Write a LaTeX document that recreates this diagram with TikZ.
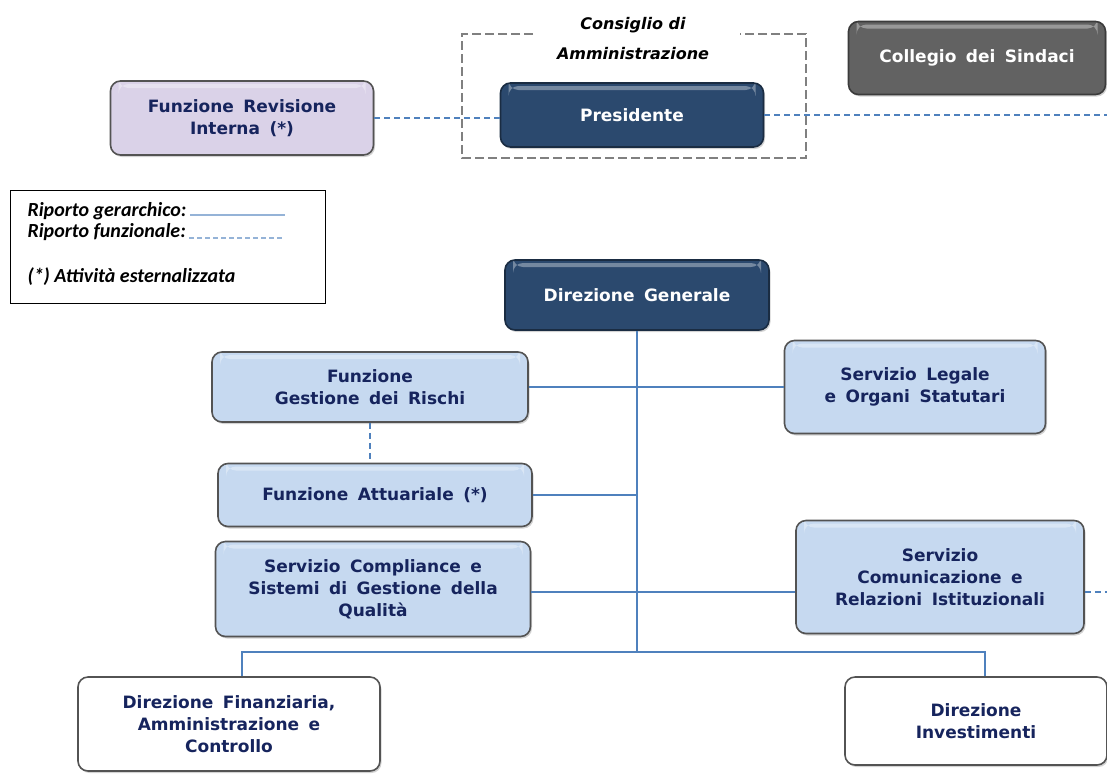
\documentclass[tikz,border=0pt]{standalone}
\usepackage{fontspec}
\setmainfont{DejaVu Sans}
\newfontfamily\boxfont[WordSpace=1.6]{DejaVu Sans}
\newfontfamily\legendfont{Carlito}
\usetikzlibrary{positioning}
\usetikzlibrary{shadows}

\definecolor{navytext}{RGB}{22,36,93}
\definecolor{linkblue}{RGB}{79,129,189}
\definecolor{paleblue}{RGB}{149,179,215}
\definecolor{lightblue}{RGB}{198,217,240}
\definecolor{lavender}{RGB}{218,210,232}
\definecolor{darknavy}{RGB}{43,73,110}
\definecolor{darkgrey}{RGB}{98,98,98}
\definecolor{framegrey}{RGB}{128,128,128}

\begin{document}
\begin{tikzpicture}[x=1pt, y=-1pt,
    unit/.style={rectangle, rounded corners=10pt, draw=gray!65!black,
      line width=1.6pt, align=center, inner sep=2pt,
      font=\boxfont\bfseries\fontsize{17}{22}\selectfont,
      drop shadow={shadow xshift=1.5pt, shadow yshift=-2pt, opacity=.35},
      path picture={\fill [white, opacity=.35]
        ([xshift=8pt, yshift=-3pt]path picture bounding box.north west) rectangle
        ([xshift=-8pt, yshift=-7pt]path picture bounding box.north east);}},
    lavbox/.style={unit, fill=lavender, text=navytext},
    bluebox/.style={unit, fill=lightblue, text=navytext},
    navybox/.style={unit, fill=darknavy, draw=darknavy!60!black, text=white},
    greybox/.style={unit, fill=darkgrey, draw=darkgrey!60!black, text=white},
    whitebox/.style={unit, fill=white, text=navytext},
    orgline/.style={draw=linkblue, line width=1.3pt},
    funzline/.style={orgline, dash pattern=on 6pt off 4pt},
    legtext/.style={anchor=west, font=\legendfont\bfseries\itshape\fontsize{20}{22}\selectfont}]

    \useasboundingbox (0,0) rectangle (1107,774);

    % consiglio di amministrazione
    \draw [framegrey, line width=2.8pt, dash pattern=on 9pt off 4pt]
      (533,34) -| (462,158) -| (806,34) -- (740,34);
    \node [align=center, font=\bfseries\itshape\fontsize{16}{30}\selectfont] (cda)
      at (633,39) {Consiglio di\\Amministrazione};

    % top row
    \node [navybox, minimum width=263, minimum height=64] (presidente) at (632,115) {Presidente};
    \node [lavbox, minimum width=263, minimum height=74] (revisione) at (242,118)
      {Funzione Revisione\\Interna (*)};
    \node [greybox, minimum width=257, minimum height=73] (collegio) at (977,58)
      {Collegio dei Sindaci};
    \coordinate (bordo) at (1107,0);

    \draw [funzline] (revisione.east) -- (revisione.east -| presidente.west);
    \draw [funzline] (presidente.east) -- (presidente.east -| bordo);

    % legenda
    \node [draw, line width=1.2pt, minimum width=315, minimum height=113,
      anchor=north west] (legenda) at (10,190) {};
    \node [legtext] (gerarchico) at (24,211) {Riporto gerarchico:};
    \node [legtext] (funzionale) at (24,232) {Riporto funzionale:};
    \node [legtext] (esterna) at (24,277) {(*) Attività esternalizzata};
    \coordinate (legfine) at (285,0);
    \draw [draw=paleblue, line width=1.2pt] ([yshift=-4pt]gerarchico.east) -- ([yshift=-4pt]gerarchico.east -| legfine);
    \draw [draw=paleblue, line width=1.2pt, dash pattern=on 5pt off 3pt]
      ([yshift=-6pt]funzionale.east) -- ([yshift=-6pt]funzionale.east -| legfine);

    % direzione generale e staff
    \node [navybox, minimum width=264, minimum height=70] (dirgen) at (637,295) {Direzione Generale};
    \node [bluebox, minimum width=316, minimum height=70] (rischi) at (370,387)
      {Funzione\\Gestione dei Rischi};
    \node [bluebox, minimum width=261, minimum height=93] (legale) at (915,387)
      {Servizio Legale\\e Organi Statutari};
    \node [bluebox, minimum width=314, minimum height=63] (attuariale) at (375,495)
      {Funzione Attuariale (*)};
    \node [bluebox, minimum width=315, minimum height=95] (compliance) at (373,589)
      {Servizio Compliance e\\Sistemi di Gestione della\\Qualità};
    \node [bluebox, minimum width=288, minimum height=113] (comunicazione) at (940,577)
      {Servizio\\Comunicazione e\\Relazioni Istituzionali};

    % direzioni operative
    \node [whitebox, minimum width=302, minimum height=94] (finanziaria) at (229,724)
      {Direzione Finanziaria,\\Amministrazione e\\Controllo};
    \node [whitebox, minimum width=262, minimum height=88] (investimenti) at (976,721)
      {Direzione\\Investimenti};

    % collegamenti
    \coordinate (bus) at (637,652);
    \coordinate (busl) at (242,652);
    \coordinate (busr) at (985,652);
    \draw [orgline] (dirgen.south) -- (bus);
    \draw [orgline] (rischi.east) -- (rischi.east -| legale.west);
    \draw [orgline] (attuariale.east) -- (attuariale.east -| dirgen.south);
    \draw [orgline] ([yshift=-3pt]compliance.east) -- ([yshift=-3pt]compliance.east -| comunicazione.west);
    \draw [funzline] ([yshift=-15pt]comunicazione.east) -- ([yshift=-15pt]comunicazione.east -| bordo);
    \draw [funzline] (rischi.south) -- (rischi.south |- attuariale.north);
    \draw [orgline] (busl |- finanziaria.north) -- (busl) -- (busr) -- (busr |- investimenti.north);

  \end{tikzpicture}
\end{document}
